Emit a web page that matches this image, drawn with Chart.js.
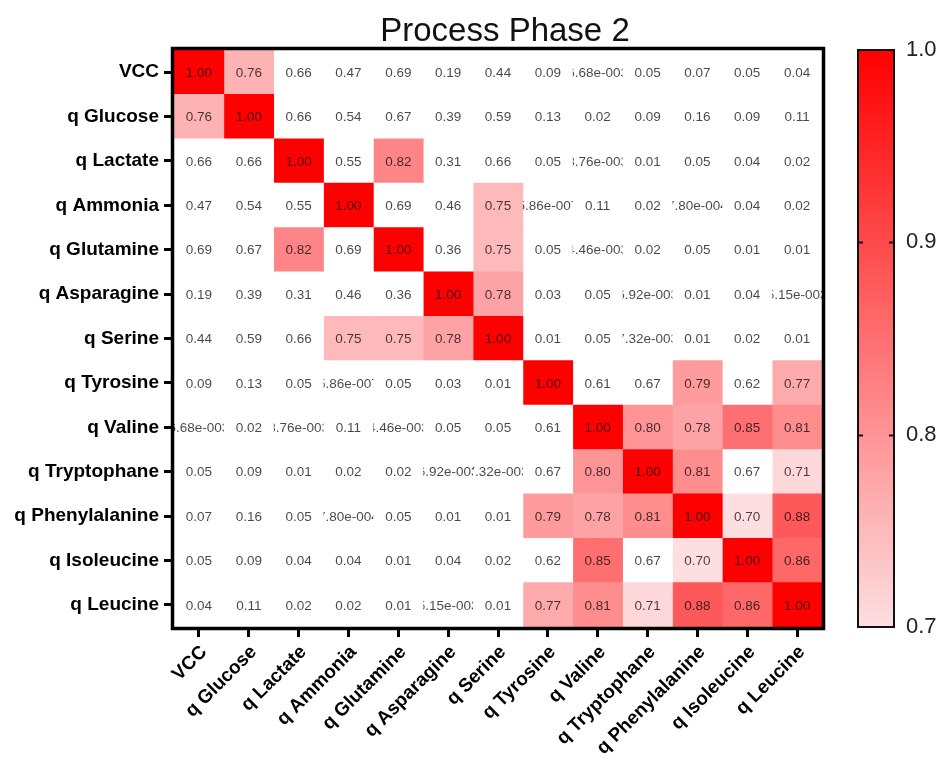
<!DOCTYPE html>
<html lang="en">
<head>
<meta charset="UTF-8" />
<title>Process Phase 2</title>
<script src="https://cdn.jsdelivr.net/npm/chart.js@4"></script>
<style>
  body { margin: 0; background: #fff; }
  canvas { display: block; }
</style>
</head>
<body>
<canvas id="heatmap" width="940" height="760"></canvas>
<script>
  const names = ['VCC', 'q Glucose', 'q Lactate', 'q Ammonia', 'q Glutamine', 'q Asparagine', 'q Serine',
                 'q Tyrosine', 'q Valine', 'q Tryptophane', 'q Phenylalanine', 'q Isoleucine', 'q Leucine'];

  // correlation rows, same order as names
  const vcc           = [1.00, 0.76, 0.66, 0.47, 0.69, 0.19, 0.44, 0.09, 0.00668, 0.05, 0.07, 0.05, 0.04];
  const glucose       = [0.76, 1.00, 0.66, 0.54, 0.67, 0.39, 0.59, 0.13, 0.02, 0.09, 0.16, 0.09, 0.11];
  const lactate       = [0.66, 0.66, 1.00, 0.55, 0.82, 0.31, 0.66, 0.05, 0.00876, 0.01, 0.05, 0.04, 0.02];
  const ammonia       = [0.47, 0.54, 0.55, 1.00, 0.69, 0.46, 0.75, 0.000000586, 0.11, 0.02, 0.000780, 0.04, 0.02];
  const glutamine     = [0.69, 0.67, 0.82, 0.69, 1.00, 0.36, 0.75, 0.05, 0.00446, 0.02, 0.05, 0.01, 0.01];
  const asparagine    = [0.19, 0.39, 0.31, 0.46, 0.36, 1.00, 0.78, 0.03, 0.05, 0.00692, 0.01, 0.04, 0.00515];
  const serine        = [0.44, 0.59, 0.66, 0.75, 0.75, 0.78, 1.00, 0.01, 0.05, 0.00732, 0.01, 0.02, 0.01];
  const tyrosine      = [0.09, 0.13, 0.05, 0.000000586, 0.05, 0.03, 0.01, 1.00, 0.61, 0.67, 0.79, 0.62, 0.77];
  const valine        = [0.00668, 0.02, 0.00876, 0.11, 0.00446, 0.05, 0.05, 0.61, 1.00, 0.80, 0.78, 0.85, 0.81];
  const tryptophane   = [0.05, 0.09, 0.01, 0.02, 0.02, 0.00692, 0.00732, 0.67, 0.80, 1.00, 0.81, 0.67, 0.71];
  const phenylalanine = [0.07, 0.16, 0.05, 0.000780, 0.05, 0.01, 0.01, 0.79, 0.78, 0.81, 1.00, 0.70, 0.88];
  const isoleucine    = [0.05, 0.09, 0.04, 0.04, 0.01, 0.04, 0.02, 0.62, 0.85, 0.67, 0.70, 1.00, 0.86];
  const leucine       = [0.04, 0.11, 0.02, 0.02, 0.01, 0.00515, 0.01, 0.77, 0.81, 0.71, 0.88, 0.86, 1.00];

  const corr = [vcc, glucose, lactate, ammonia, glutamine, asparagine, serine,
                tyrosine, valine, tryptophane, phenylalanine, isoleucine, leucine];

  const scaleMin = 0.7;
  const scaleMax = 1.0;

  const FONT = '"Liberation Sans", Arial, sans-serif';

  // white below the scale, pale pink -> red inside it
  function cellColor(v) {
    if (v < scaleMin) return 'rgb(255,255,255)';
    const t = Math.min(1, (v - scaleMin) / (scaleMax - scaleMin));
    const r = Math.round(253 + (255 - 253) * t);
    const g = Math.round(222 * (1 - t));
    const b = Math.round(225 * (1 - t));
    return `rgb(${r},${g},${b})`;
  }

  function fmt(v) {
    if (v >= 0.01) return v.toFixed(2);
    const [m, e] = v.toExponential(2).split('e');
    return m + 'e-' + String(Math.abs(+e)).padStart(3, '0');
  }

  // one dataset per column, each row a floating bar one unit wide
  const datasets = names.map((col, j) => ({
    label: col,
    xAxisID: 'xv',
    data: names.map(() => [j, j + 1]),
    backgroundColor: corr.map(row => cellColor(row[j])),
    borderWidth: 0,
    grouped: false,
    categoryPercentage: 1,
    barPercentage: 1
  }));

  const heatPlugin = {
    id: 'heat',
    beforeDraw(chart) {
      const ctx = chart.ctx;
      ctx.save();
      ctx.fillStyle = '#fff';
      ctx.fillRect(0, 0, chart.width, chart.height);
      ctx.restore();
    },
    afterDatasetsDraw(chart) {
      const ctx = chart.ctx;
      ctx.save();
      ctx.font = '13.5px ' + FONT;
      ctx.textAlign = 'center';
      ctx.textBaseline = 'middle';
      ctx.fillStyle = 'rgba(0,0,0,0.72)';
      chart.data.datasets.forEach((ds, j) => {
        chart.getDatasetMeta(j).data.forEach((bar, i) => {
          const p = bar.getProps(['x', 'y', 'base', 'height'], true);
          const x0 = Math.min(p.base, p.x), x1 = Math.max(p.base, p.x);
          ctx.save();
          ctx.beginPath();
          ctx.rect(x0, p.y - p.height / 2, x1 - x0, p.height);
          ctx.clip();
          ctx.fillText(fmt(corr[i][j]), (x0 + x1) / 2, p.y + 1);
          ctx.restore();
        });
      });
      ctx.restore();
    },
    afterDraw(chart) {
      const ctx = chart.ctx;
      const a = chart.chartArea;
      ctx.save();

      // frame
      ctx.strokeStyle = '#000';
      ctx.lineWidth = 3.5;
      ctx.strokeRect(a.left - 1.5, a.top - 1.5, a.right - a.left + 3, a.bottom - a.top + 3);

      // title, centred a little right of the plot centre like the original
      ctx.fillStyle = '#111';
      ctx.font = '33px ' + FONT;
      ctx.textAlign = 'center';
      ctx.textBaseline = 'alphabetic';
      ctx.fillText('Process Phase 2', (a.left + a.right) / 2 + 7, 41);

      // colour bar
      const cb = chart.scales.cb;
      const yTop = cb.getPixelForValue(scaleMax);
      const yBot = cb.getPixelForValue(scaleMin);
      const bx = a.right + 36, bw = 36;
      const grad = ctx.createLinearGradient(0, yBot, 0, yTop);
      for (let k = 0; k <= 10; k++) {
        grad.addColorStop(k / 10, cellColor(scaleMin + (scaleMax - scaleMin) * k / 10));
      }
      ctx.fillStyle = grad;
      ctx.fillRect(bx, yTop, bw, yBot - yTop);
      ctx.lineWidth = 2;
      ctx.strokeStyle = '#111';
      ctx.strokeRect(bx, yTop, bw, yBot - yTop);
      [0.8, 0.9].forEach(v => {
        const y = Math.round(cb.getPixelForValue(v)) + 0.5;
        ctx.beginPath();
        ctx.moveTo(bx, y); ctx.lineTo(bx + 5, y);
        ctx.moveTo(bx + bw - 5, y); ctx.lineTo(bx + bw, y);
        ctx.stroke();
      });
      ctx.restore();
    }
  };

  new Chart(document.getElementById('heatmap'), {
    type: 'bar',
    data: { labels: names, datasets },
    options: {
      responsive: false,
      animation: false,
      indexAxis: 'y',
      layout: { padding: { top: 50, left: 0, right: 0, bottom: 0 } },
      plugins: {
        legend: { display: false },
        tooltip: { enabled: false },
        title: { display: false }
      },
      scales: {
        xv: {
          type: 'linear',
          display: false,
          min: 0,
          max: names.length
        },
        x: {
          type: 'category',
          position: 'bottom',
          labels: names,
          offset: true,
          afterFit: s => { s.height = 133; },
          grid: { offset: false, drawOnChartArea: false, tickLength: 10, lineWidth: 3, color: '#000' },
          border: { display: false },
          ticks: {
            autoSkip: false,
            minRotation: 45,
            maxRotation: 45,
            padding: 4,
            labelOffset: 5,
            color: '#000',
            font: { family: FONT, size: 19, weight: 'bold' }
          }
        },
        y: {
          type: 'category',
          offset: true,
          afterFit: s => { s.width = 174; },
          grid: { offset: false, drawOnChartArea: false, tickLength: 10, lineWidth: 3, color: '#000' },
          border: { display: false },
          ticks: {
            autoSkip: false,
            padding: 5,
            color: '#000',
            font: { family: FONT, size: 19, weight: 'bold' }
          }
        },
        cb: {
          type: 'linear',
          position: 'right',
          offset: false,
          min: scaleMin,
          max: scaleMax,
          afterFit: s => { s.width = 118; },
          // labels pushed past the colour bar through an undrawn tick length
          grid: { display: false, drawTicks: true, tickLength: 84, offset: false },
          border: { display: false },
          ticks: {
            stepSize: 0.1,
            padding: 0,
            color: '#222',
            font: { family: FONT, size: 22 },
            callback: v => v.toFixed(1)
          }
        }
      }
    },
    plugins: [heatPlugin]
  });
</script>
</body>
</html>
